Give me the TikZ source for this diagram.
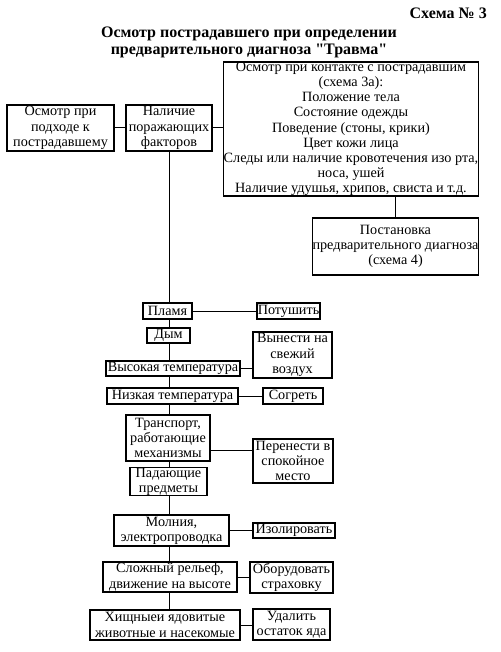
\documentclass[tikz,border=0pt]{standalone}
\usepackage{fontspec}
\setmainfont{Liberation Serif}[Ligatures=TeXOff]
\begin{document}
\begin{tikzpicture}[x=1pt,y=-1pt,
  box/.style={draw, line width=1.3pt, fill=white, align=center, inner sep=0pt,
    font=\fontsize{14.2}{15.2}\selectfont},
  conn/.style={line width=1pt},
  ttl/.style={font=\fontsize{16}{17}\selectfont\bfseries, inner sep=0pt}]
\useasboundingbox (0,0) rectangle (500,652);
\node[ttl, anchor=east] (sch) at (487,13) {Схема № 3};
\node[ttl, align=center] (title) at (249,42.5) {Осмотр пострадавшего при определении\\предварительного диагноза "Травма"};
% trunk first (under boxes)
\coordinate (trunkend) at (169,610);
\node[box, minimum width=86, minimum height=46] (nal) at (169,128) {Наличие\\поражающих\\факторов};
\draw[conn] (nal.south) -- (nal.south |- trunkend);
\node[box, minimum width=107, minimum height=46] (osm) at (60.5,128) {Осмотр при\\подходе к\\пострадавшему};
\node[box, minimum width=254, minimum height=128] (big) at (351,129) {Осмотр при контакте с пострадавшим\\(схема 3а):\\Положение тела\\Состояние одежды\\Поведение (стоны, крики)\\Цвет кожи лица\\Следы или наличие кровотечения изо рта,\\носа, ушей\\Наличие удушья, хрипов, свиста и т.д.};
\node[box, minimum width=163, minimum height=57] (post) at (395.5,246.5) {Постановка\\предварительного диагноза\\(схема 4)};
\node[box, minimum width=49, minimum height=16] (plam) at (167.5,311) {Пламя};
\node[box, minimum width=63, minimum height=16] (pot) at (288.5,311) {Потушить};
\node[box, minimum width=43, minimum height=15] (dym) at (168.5,335.5) {Дым};
\node[box, minimum width=79, minimum height=46] (vyn) at (292.5,355) {Вынести на\\свежий\\воздух};
\node[box, minimum width=134, minimum height=15] (vys) at (173,368.5) {Высокая температура};
\node[box, minimum width=131, minimum height=16] (niz) at (172.5,396) {Низкая температура};
\node[box, minimum width=60, minimum height=16] (sog) at (293,396) {Согреть};
\node[box, minimum width=84, minimum height=46] (tran) at (168,438) {Транспорт,\\работающие\\механизмы};
\node[box, minimum width=80, minimum height=44] (per) at (293,461) {Перенести в\\спокойное\\место};
\node[box, minimum width=77, minimum height=27] (pad) at (168.5,481.5) {Падающие\\предметы};
\node[box, minimum width=115, minimum height=31] (mol) at (171.5,530.5) {Молния,\\электропроводка};
\node[box, minimum width=82, minimum height=15] (izo) at (294,530.5) {Изолировать};
\node[box, minimum width=134, minimum height=30] (slo) at (170,577) {Сложный рельеф,\\движение на высоте};
\node[box, minimum width=83, minimum height=31] (obo) at (291.5,577.5) {Оборудовать\\страховку};
\node[box, minimum width=150, minimum height=30] (his) at (165,625) {Хищныеи ядовитые\\животные и насекомые};
\node[box, minimum width=77, minimum height=31] (uda) at (291.5,624.5) {Удалить\\остаток яда};
% connectors
\draw[conn] (osm.east) -- (nal.west);
\draw[conn] (nal.east) -- (nal.east -| big.west);
\draw[conn] (big.south -| post.north) -- (post.north);
\draw[conn] (plam.east) -- (pot.west);
\draw[conn] (vys.east) -- (vys.east -| vyn.west);
\draw[conn] (niz.east) -- (sog.west);
\draw[conn] ([yshift=-12pt]tran.east) -- ([yshift=-12pt]tran.east -| per.west);
\draw[conn] (mol.east) -- (izo.west);
\draw[conn] (slo.east) -- (slo.east -| obo.west);
\draw[conn] (his.east) -- (his.east -| uda.west);
\end{tikzpicture}
\end{document}
